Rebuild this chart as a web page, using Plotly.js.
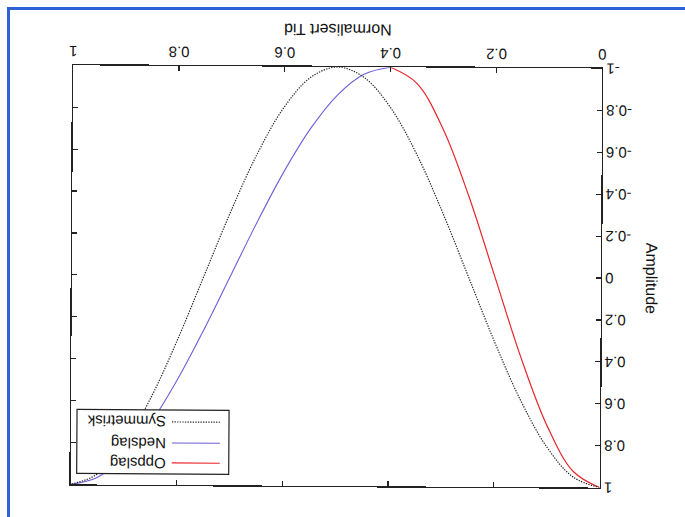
<!DOCTYPE html>
<html><head><meta charset="utf-8">
<script src="https://cdn.plot.ly/plotly-3.0.1.min.js"></script>
<style>
html,body{margin:0;padding:0;background:#fff;overflow:hidden;width:685px;height:517px}
#chart{position:absolute;left:0;top:0;width:685px;height:517px;transform:rotate(180.35deg);transform-origin:50% 50%}
#frame{position:absolute;left:7px;top:7px;width:700px;height:530px;border-top:3px solid #2f62d8;border-left:3px solid #2f62d8;pointer-events:none}
</style></head><body>
<div id="chart"></div>
<div id="frame"></div>
<script>
// Symmetrisk
const symX = [0,0.05,0.1,0.15,0.2,0.25,0.3,0.35,0.4,0.45,0.5,0.55,0.6,0.65,0.7,0.75,0.8,0.85,0.9,0.95,1];
const symY = [1,0.951,0.809,0.588,0.309,0,-0.309,-0.588,-0.809,-0.951,-1,-0.951,-0.809,-0.588,-0.309,0,0.309,0.588,0.809,0.951,1];
// Oppslag
const oppX = [0,0.05,0.1,0.15,0.2,0.25,0.3,0.35,0.4];
const oppY = [1,0.924,0.707,0.383,0,-0.383,-0.707,-0.924,-1];
// Nedslag
const nedX = [0.4,0.45,0.5,0.55,0.6,0.65,0.7,0.75,0.8,0.85,0.9,0.95,1];
const nedY = [-1,-0.966,-0.866,-0.707,-0.5,-0.259,0,0.259,0.5,0.707,0.866,0.966,1];

const seriesNames = ["Oppslag","Nedslag","Symmetrisk"];
const xTickVals = [0,0.2,0.4,0.6,0.8,1];
const xTickText = ["0","0.2","0.4","0.6","0.8","1"];
const yTickVals = [-1,-0.8,-0.6,-0.4,-0.2,0,0.2,0.4,0.6,0.8,1];
const yTickText = ["-1","-0.8","-0.6","-0.4","-0.2","0","0.2","0.4","0.6","0.8","1"];
const xTitle = "Normalisert Tid";
const yTitle = "Amplitude";

const FONT = "Liberation Sans, Arial, sans-serif";
const lineStyles = [
  {color: "#e8262b", width: 1.2},
  {color: "#6a5fd8", width: 1.1},
  {color: "#222222", width: 1.2, dash: "1.3px,1.3px"}
];
const seriesX = [oppX, nedX, symX];
const seriesY = [oppY, nedY, symY];

const traces = seriesNames.map((n, i) => ({
  x: seriesX[i], y: seriesY[i], name: n, mode: "lines", showlegend: false,
  line: Object.assign({shape: "spline", smoothing: 1}, lineStyles[i])
}));

// Legend box (gnuplot-style key, top right of the plot area)
const key = {x0: 0.7013, x1: 0.9887, y0: 0.821, y1: 0.9737,
             sx0: 0.7183, sx1: 0.8091, tx: 0.8166, rows: [0.9475, 0.8998, 0.8496]};
const shapes = [{type: "rect", xref: "paper", yref: "paper",
  x0: key.x0, x1: key.x1, y0: key.y0, y1: key.y1,
  line: {color: "#222", width: 1.2}, fillcolor: "#ffffff", layer: "above"}];
const annotations = [];
seriesNames.forEach((n, i) => {
  shapes.push({type: "line", xref: "paper", yref: "paper",
    x0: key.sx0, x1: key.sx1, y0: key.rows[i], y1: key.rows[i],
    line: lineStyles[i], layer: "above"});
  annotations.push({xref: "paper", yref: "paper", x: key.tx, y: key.rows[i],
    text: n, showarrow: false, xanchor: "left", yanchor: "middle",
    font: {family: FONT, size: 15, color: "#111"}});
});

const axisCommon = {
  showline: true, linecolor: "#222", linewidth: 1.3, mirror: "ticks",
  ticks: "inside", ticklen: 5, tickwidth: 1.2, tickcolor: "#222",
  showgrid: false, zeroline: false,
  tickfont: {family: FONT, size: 15, color: "#111"}
};

const layout = {
  width: 685, height: 517, autosize: false,
  margin: {l: 84, r: 72, t: 31, b: 67, pad: 0},
  paper_bgcolor: "#ffffff", plot_bgcolor: "#ffffff",
  font: {family: FONT, color: "#111"},
  showlegend: false,
  shapes: shapes, annotations: annotations,
  xaxis: Object.assign({}, axisCommon, {
    range: [0, 1], tickmode: "array", tickvals: xTickVals, ticktext: xTickText,
    title: {text: xTitle, font: {family: FONT, size: 16, color: "#111"}, standoff: 10}
  }),
  yaxis: Object.assign({}, axisCommon, {
    range: [-1, 1], tickmode: "array", tickvals: yTickVals, ticktext: yTickText,
    title: {text: yTitle, font: {family: FONT, size: 16, color: "#111"}, standoff: 10}
  })
};

Plotly.newPlot("chart", traces, layout, {displayModeBar: false, staticPlot: true});
</script>
</body></html>
